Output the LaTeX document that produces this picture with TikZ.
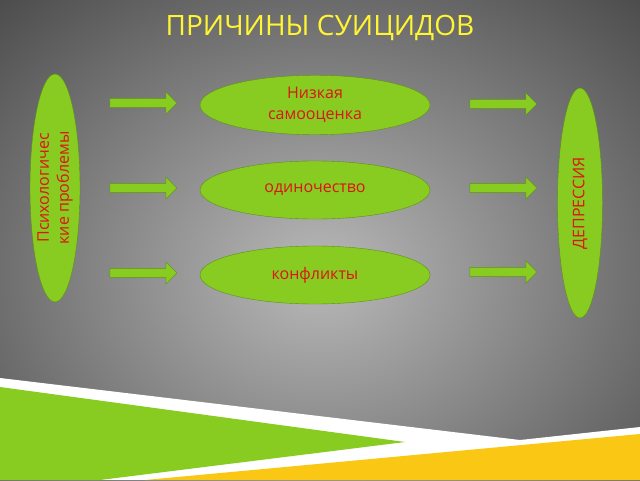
\documentclass[tikz,border=0pt]{standalone}
\usepackage{fontspec}
\setmainfont{Open Sans}
\usetikzlibrary{shapes.arrows,shapes.geometric}
\definecolor{leaf}{RGB}{136,204,34}
\definecolor{sun}{RGB}{250,200,20}
\definecolor{causered}{RGB}{220,20,20}
\begin{document}
\begin{tikzpicture}[x=1pt, y=-1pt]
  \tikzset{
  cause/.style={
    ellipse,
    draw=leaf!70!black,
    fill=leaf,
    minimum width=230pt,
    minimum height=58pt,
    align=center,
    text=causered,
    font=\fontsize{16}{21}\selectfont
  },
  side/.style={
    ellipse,
    draw=leaf!70!black,
    fill=leaf,
    align=center,
    text=causered,
    inner sep=0pt,
    font=\fontsize{16}{20}\selectfont
  },
  push/.style={
    single arrow,
    draw=leaf!70!black,
    fill=leaf,
    minimum width=22pt,
    minimum height=67pt,
    single arrow head extend=3pt,
    single arrow head indent=0pt,
    inner sep=2pt
  }
}
\useasboundingbox (0,0) rectangle (640,480);
\shade[inner color=gray!55, outer color=black!75] (-200,-150) rectangle (840,700);
\clip (0,0) rectangle (640,480);

% bottom bands
\fill[white] (0,378) -- (520,440) -- (640,427) -- (640,480) -- (0,480) -- cycle;
\fill[leaf] (0,387) -- (405,442) -- (100,480) -- (0,480) -- cycle;
\fill[sun] (145,480) -- (640,434) -- (640,480) -- cycle;

\node[text=yellow!80!white, font=\fontsize{28}{32}\selectfont] (title) at (320,28) {ПРИЧИНЫ СУИЦИДОВ};

\node[side, minimum width=228pt, minimum height=50pt, rotate=90] (psy) at (55,188) {Психологичес\\кие проблемы};
\node[side, minimum width=230pt, minimum height=45pt, rotate=90] (dep) at (580,203) {ДЕПРЕССИЯ};

\foreach \m/\t [count=\y] in {low/Низкая\\самооценка,alone/одиночество,conf/конфликты}
  \node[cause] (cause-\m) at (315,20+85*\y) {\t};

\foreach \m [count=\y] in {low,alone,conf}
  \node[push] (in-\m) at (141,18+85*\y) {};

\foreach \m [count=\y] in {low,alone,conf}
  \node[push] (out-\m) at (501,20+84*\y) {};
\end{tikzpicture}
\end{document}
